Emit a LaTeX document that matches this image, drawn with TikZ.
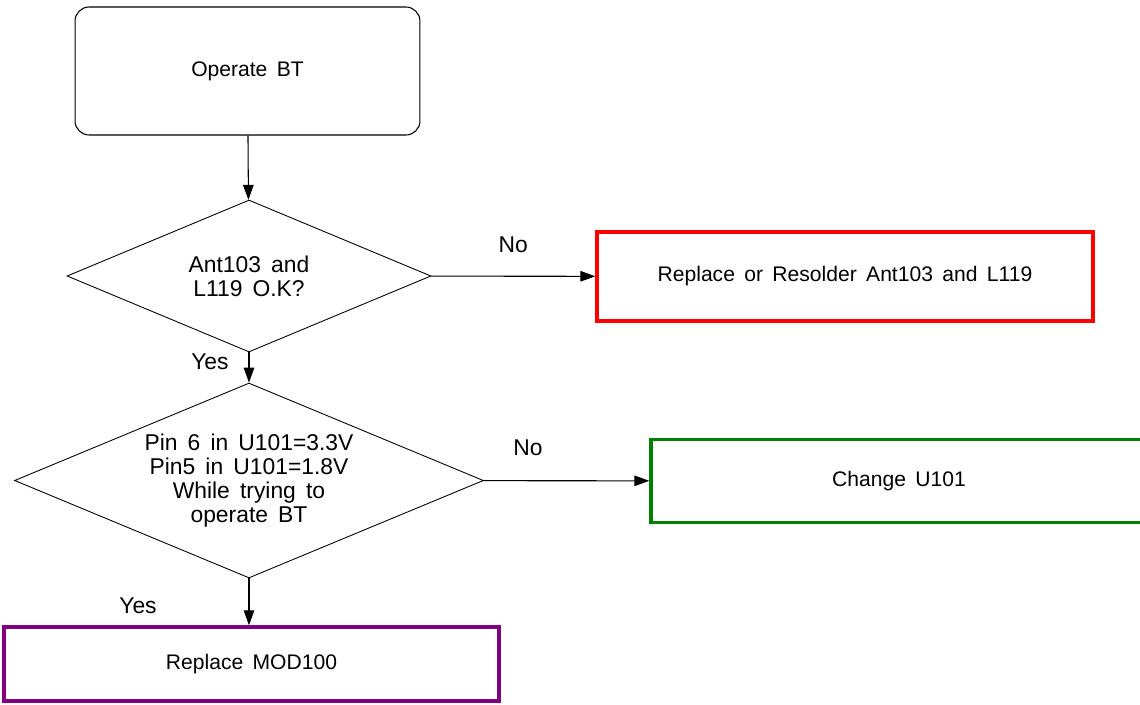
\documentclass[tikz,border=0pt]{standalone}
\usepackage{fontspec}
\setmainfont{Liberation Sans}[WordSpace=1.6]
\usepackage{tikz}
\usetikzlibrary{shapes.geometric,arrows.meta,positioning}
\definecolor{failred}{RGB}{255,0,0}
\definecolor{failgreen}{RGB}{0,128,0}
\definecolor{failpurple}{RGB}{128,0,128}

\begin{document}
\begin{tikzpicture}[x=0.02cm, y=-0.02cm, font=\fontsize{12}{14}\selectfont,
    flow/.style={-{Triangle[length=8.5pt,width=6pt]}, line width=0.6pt},
    check/.style={diamond, draw, line width=0.5pt, aspect=2.4, inner sep=0pt, align=center, font=\fontsize{13}{13.8}\selectfont},
    fixbox/.style={rectangle, line width=2pt, inner sep=0pt, align=center},
    answer/.style={font=\fontsize{13}{15}\selectfont}]
        \useasboundingbox (0,0) rectangle (1140,704);
        \node[rectangle, draw, line width=0.6pt, rounded corners=8pt, minimum width=6.9cm, minimum height=2.56cm] (start) at (247.5,71) {Operate BT};
        \node[check, minimum width=7.28cm, minimum height=3.04cm] (ant) at (249,276) {Ant103 and\\L119 O.K?};
        \node[fixbox, draw=failred, minimum width=9.92cm, minimum height=1.78cm] (resolder) at (845,276.5) {Replace or Resolder Ant103 and L119};
        \node[check, minimum width=9.38cm, minimum height=3.9cm] (pins) at (249,480.5) {Pin 6 in U101=3.3V\\Pin5 in U101=1.8V\\While trying to\\operate BT};
        \node[fixbox, draw=failgreen, minimum width=9.92cm, minimum height=1.66cm] (chip) at (899,481) {Change U101};
        \node[fixbox, draw=failpurple, minimum width=9.9cm, minimum height=1.48cm] (module) at (251.5,664) {Replace MOD100};

        \draw[flow] (start) -- (ant);
        \draw[flow] (ant) -- node[answer, above=10pt] {No} (resolder);
        \draw[flow] (ant) -- node[answer, left=8pt, yshift=3.5pt] {Yes} (pins);
        \draw[flow] (pins) -- (chip);
        \node[answer] at (528,448) {No};
        \draw[flow] (pins.south) -- (module.north -| pins.south);
        \node[answer] at (138,606) {Yes};
      \end{tikzpicture}
\end{document}
